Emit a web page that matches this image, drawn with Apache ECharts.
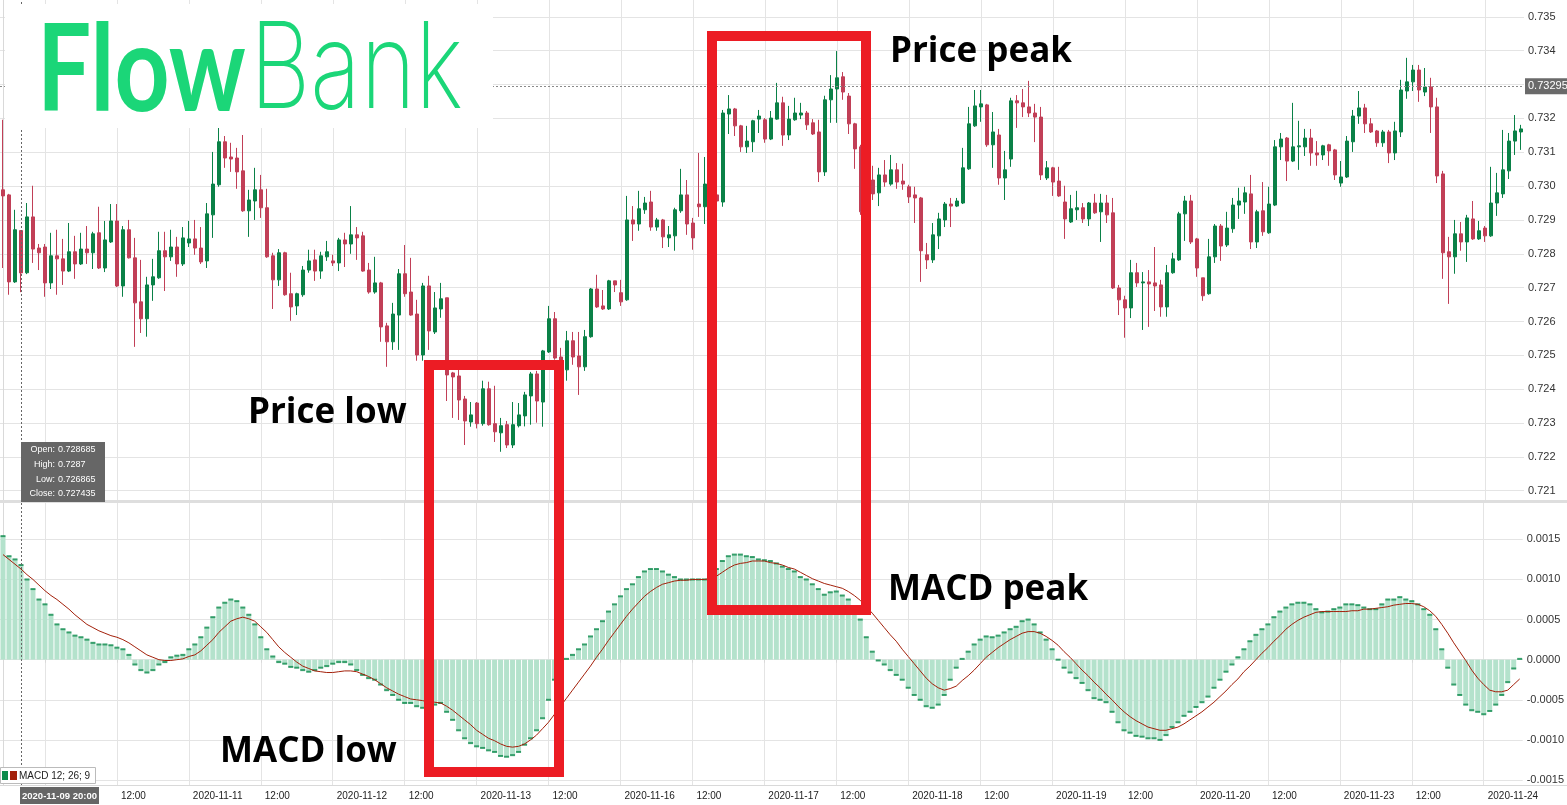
<!DOCTYPE html>
<html><head><meta charset="utf-8">
<script src="https://cdn.jsdelivr.net/npm/echarts@6/dist/echarts.min.js"></script>
<style>html,body{margin:0;padding:0;background:#fff}#c{width:1567px;height:805px}</style>
</head><body><div id="c"></div>
<script>
// ---- DATA (hourly candles, 2020-11-09 17:00 .. 2020-11-24 06:00, weekends skipped) ----
const tradingDays = ['2020-11-09','2020-11-10','2020-11-11','2020-11-12','2020-11-13','2020-11-16','2020-11-17','2020-11-18','2020-11-19','2020-11-20','2020-11-23','2020-11-24'];
const openP = [0.72989,0.72974,0.72717,0.728685,0.72744,0.72909,0.72817,0.72820,0.72714,0.72794,
0.72785,0.72749,0.72806,0.72770,0.72814,0.72803,0.72862,0.72758,0.72835,0.72897,
0.72705,0.72871,0.72788,0.72658,0.72608,0.72708,0.72729,0.72809,0.72791,0.72820,
0.72770,0.72832,0.72844,0.72817,0.72779,0.72915,0.73004,0.73131,0.73086,0.73083,
0.73045,0.72927,0.72956,0.72989,0.72936,0.72794,0.72723,0.72803,0.72682,0.72646,
0.72679,0.72752,0.72782,0.72749,0.72791,0.72779,0.72773,0.72841,0.72829,0.72856,
0.72853,0.72752,0.72687,0.72714,0.72587,0.72540,0.72619,0.72741,0.72687,0.72622,
0.72501,0.72705,0.72569,0.72637,0.72670,0.72448,0.72439,0.72371,0.72303,0.72359,
0.72298,0.72401,0.72298,0.72271,0.72295,0.72235,0.72292,0.72321,0.72380,0.72445,
0.72362,0.72510,0.72608,0.72495,0.72457,0.72543,0.72498,0.72466,0.72555,0.72696,
0.72646,0.72637,0.72720,0.72685,0.72664,0.72900,0.72888,0.72930,0.72953,0.72879,
0.72900,0.72847,0.72853,0.72927,0.72974,0.72891,0.72947,0.72939,0.73006,0.72974,
0.72953,0.73213,0.73228,0.73178,0.73116,0.73131,0.73198,0.73196,0.73139,0.73198,
0.73246,0.73151,0.73196,0.73210,0.73216,0.73187,0.73160,0.73042,0.73255,0.73287,
0.73323,0.73266,0.73184,0.73116,0.72930,0.73018,0.72980,0.73033,0.73006,0.73048,
0.73015,0.72998,0.72974,0.72965,0.72797,0.72782,0.72853,0.72900,0.72947,0.72941,
0.72950,0.73051,0.73178,0.73234,0.73240,0.73122,0.73151,0.73024,0.73080,0.73252,
0.73246,0.73234,0.73216,0.73204,0.73024,0.73054,0.73015,0.72953,0.72894,0.72930,
0.72936,0.72903,0.72950,0.72924,0.72950,0.72921,0.72699,0.72664,0.72640,0.72744,
0.72714,0.72717,0.72714,0.72708,0.72643,0.72744,0.72782,0.72918,0.72956,0.72844,
0.72729,0.72682,0.72791,0.72882,0.72826,0.72874,0.72944,0.72953,0.72977,0.72835,
0.72927,0.72862,0.72944,0.73116,0.73142,0.73074,0.73116,0.73116,0.73142,0.73098,
0.73092,0.73122,0.73107,0.73009,0.73027,0.73131,0.73207,0.73231,0.73184,0.73163,
0.73128,0.73160,0.73098,0.73160,0.73281,0.73308,0.73343,0.73278,0.73293,0.73234,
0.73036,0.72806,0.72791,0.72859,0.72835,0.72903,0.72844,0.72876,0.72853,0.72950,
0.72977,0.73045,0.73133,0.73160];
const closeP = [0.72971,0.72717,0.72871,0.727435,0.72909,0.72814,0.72803,0.72714,0.72794,0.72785,
0.72749,0.72806,0.72770,0.72814,0.72803,0.72859,0.72758,0.72841,0.72897,0.72705,
0.72871,0.72788,0.72655,0.72608,0.72708,0.72732,0.72809,0.72791,0.72820,0.72770,
0.72847,0.72844,0.72817,0.72776,0.72918,0.73006,0.73131,0.73083,0.73080,0.73042,
0.72927,0.72959,0.72989,0.72936,0.72791,0.72723,0.72803,0.72679,0.72643,0.72682,
0.72752,0.72779,0.72749,0.72794,0.72806,0.72773,0.72841,0.72829,0.72856,0.72847,
0.72749,0.72687,0.72714,0.72584,0.72540,0.72622,0.72741,0.72682,0.72619,0.72501,
0.72705,0.72572,0.72640,0.72667,0.72442,0.72436,0.72368,0.72306,0.72324,0.72298,
0.72401,0.72295,0.72274,0.72292,0.72235,0.72295,0.72324,0.72383,0.72445,0.72365,
0.72513,0.72608,0.72492,0.72463,0.72543,0.72495,0.72466,0.72555,0.72696,0.72643,
0.72637,0.72720,0.72708,0.72658,0.72900,0.72888,0.72933,0.72950,0.72879,0.72900,
0.72850,0.72856,0.72930,0.72974,0.72888,0.72847,0.72939,0.73006,0.72974,0.72956,
0.73216,0.73228,0.73178,0.73116,0.73133,0.73193,0.73207,0.73139,0.73201,0.73246,
0.73151,0.73198,0.73216,0.73216,0.73181,0.73154,0.73042,0.73255,0.73287,0.73320,
0.73278,0.73184,0.73110,0.72924,0.73004,0.72977,0.73033,0.73012,0.73048,0.73012,
0.73006,0.72968,0.72965,0.72809,0.72782,0.72856,0.72903,0.72947,0.72941,0.72956,
0.73054,0.73184,0.73237,0.73243,0.73122,0.73160,0.73024,0.73048,0.73252,0.73246,
0.73234,0.73216,0.73204,0.73033,0.73054,0.73012,0.72971,0.72903,0.72933,0.72936,
0.72903,0.72950,0.72921,0.72950,0.72915,0.72699,0.72664,0.72640,0.72744,0.72714,
0.72717,0.72711,0.72705,0.72643,0.72744,0.72785,0.72918,0.72956,0.72835,0.72758,
0.72676,0.72791,0.72882,0.72823,0.72876,0.72944,0.72956,0.72980,0.72835,0.72924,
0.72865,0.72947,0.73116,0.73139,0.73074,0.73116,0.73119,0.73142,0.73098,0.73092,
0.73119,0.73104,0.73033,0.73027,0.73133,0.73207,0.73231,0.73184,0.73160,0.73128,
0.73160,0.73098,0.73163,0.73284,0.73308,0.73343,0.73284,0.73293,0.73234,0.73030,
0.72803,0.72791,0.72859,0.72835,0.72906,0.72844,0.72868,0.72853,0.72950,0.72980,
0.73048,0.73133,0.73163,0.73169];
const lowP = [0.72758,0.72679,0.72714,0.726865,0.72740,0.72773,0.72752,0.72673,0.72696,0.72679,
0.72708,0.72746,0.72726,0.72767,0.72770,0.72755,0.72755,0.72746,0.72832,0.72702,
0.72673,0.72786,0.72525,0.72566,0.72555,0.72661,0.72726,0.72690,0.72779,0.72732,
0.72764,0.72820,0.72797,0.72770,0.72758,0.72847,0.72998,0.73054,0.73042,0.72992,
0.72924,0.72850,0.72900,0.72906,0.72788,0.72637,0.72705,0.72676,0.72602,0.72619,
0.72673,0.72744,0.72720,0.72726,0.72779,0.72764,0.72749,0.72761,0.72800,0.72782,
0.72747,0.72682,0.72682,0.72540,0.72466,0.72516,0.72516,0.72673,0.72617,0.72484,
0.72484,0.72516,0.72563,0.72611,0.72365,0.72315,0.72309,0.72235,0.72289,0.72284,
0.72292,0.72292,0.72244,0.72215,0.72226,0.72226,0.72287,0.72290,0.72295,0.72301,
0.72289,0.72507,0.72487,0.72409,0.72425,0.72472,0.72383,0.72454,0.72552,0.72640,
0.72634,0.72634,0.72687,0.72646,0.72661,0.72838,0.72868,0.72918,0.72868,0.72868,
0.72817,0.72820,0.72809,0.72921,0.72856,0.72812,0.72909,0.72888,0.72959,0.72903,
0.72939,0.73154,0.73148,0.73101,0.73098,0.73101,0.73157,0.73128,0.73136,0.73196,
0.73119,0.73136,0.73193,0.73198,0.73166,0.73151,0.73012,0.73030,0.73187,0.73187,
0.73255,0.73154,0.73051,0.72915,0.72918,0.72959,0.72941,0.72998,0.73001,0.72992,
0.72989,0.72950,0.72891,0.72717,0.72755,0.72773,0.72814,0.72879,0.72879,0.72938,
0.72947,0.73048,0.73175,0.73190,0.73116,0.73054,0.73004,0.72959,0.73057,0.73172,
0.73204,0.73204,0.73130,0.73018,0.73018,0.72971,0.72968,0.72844,0.72891,0.72900,
0.72891,0.72882,0.72918,0.72835,0.72891,0.72696,0.72619,0.72552,0.72610,0.72702,
0.72575,0.72584,0.72631,0.72614,0.72614,0.72741,0.72779,0.72838,0.72829,0.72732,
0.72661,0.72679,0.72773,0.72779,0.72820,0.72862,0.72903,0.72918,0.72814,0.72817,
0.72853,0.72859,0.72941,0.73077,0.73015,0.73071,0.73048,0.73089,0.73060,0.73060,
0.73077,0.73060,0.73018,0.72998,0.73024,0.73101,0.73184,0.73157,0.73157,0.73116,
0.73116,0.73068,0.73077,0.73145,0.73258,0.73281,0.73249,0.73266,0.73157,0.73009,
0.72726,0.72652,0.72741,0.72809,0.72776,0.72841,0.72841,0.72835,0.72850,0.72912,
0.72965,0.73021,0.73092,0.73107];
const highP = [0.73196,0.72977,0.72930,0.7287,0.72950,0.73001,0.72829,0.72829,0.72862,0.72871,
0.72844,0.72891,0.72853,0.72862,0.72882,0.72865,0.72939,0.72897,0.72947,0.72947,
0.72882,0.72900,0.72847,0.72782,0.72732,0.72785,0.72865,0.72865,0.72871,0.72850,
0.72879,0.72897,0.72900,0.72879,0.72950,0.73101,0.73172,0.73148,0.73128,0.73113,
0.73151,0.72989,0.73054,0.73033,0.72992,0.72803,0.72814,0.72806,0.72744,0.72685,
0.72764,0.72812,0.72812,0.72806,0.72838,0.72797,0.72847,0.72862,0.72941,0.72879,
0.72865,0.72773,0.72791,0.72717,0.72596,0.72655,0.72755,0.72826,0.72788,0.72664,
0.72714,0.72735,0.72687,0.72714,0.72670,0.72451,0.72457,0.72380,0.72362,0.72362,
0.72425,0.72422,0.72410,0.72315,0.72306,0.72362,0.72359,0.72392,0.72451,0.72454,
0.72516,0.72646,0.72628,0.72522,0.72572,0.72569,0.72569,0.72575,0.72699,0.72738,
0.72693,0.72723,0.72720,0.72723,0.72971,0.72941,0.72986,0.72968,0.72986,0.72906,
0.72903,0.72882,0.72936,0.73051,0.73018,0.72906,0.73098,0.73086,0.73024,0.73068,
0.73225,0.73269,0.73231,0.73181,0.73178,0.73196,0.73225,0.73201,0.73222,0.73305,
0.73264,0.73237,0.73261,0.73246,0.73222,0.73198,0.73196,0.73267,0.73328,0.73399,
0.73337,0.73275,0.73187,0.73122,0.73018,0.73060,0.73054,0.73077,0.73092,0.73068,
0.73066,0.73004,0.72998,0.72968,0.72832,0.72891,0.72921,0.72953,0.72965,0.72965,
0.73113,0.73234,0.73284,0.73284,0.73243,0.73219,0.73169,0.73104,0.73261,0.73269,
0.73287,0.73311,0.73243,0.73234,0.73074,0.73057,0.73057,0.73001,0.72974,0.72986,
0.72950,0.72953,0.72977,0.72977,0.72974,0.72965,0.72708,0.72676,0.72782,0.72773,
0.72746,0.72752,0.72820,0.72723,0.72767,0.72803,0.72924,0.72971,0.72974,0.72847,
0.72729,0.72844,0.72888,0.72888,0.72924,0.72965,0.72995,0.72998,0.73033,0.72930,
0.73012,0.72998,0.73136,0.73157,0.73145,0.73246,0.73193,0.73169,0.73169,0.73133,
0.73122,0.73125,0.73110,0.73074,0.73148,0.73225,0.73281,0.73243,0.73201,0.73166,
0.73166,0.73166,0.73190,0.73314,0.73379,0.73358,0.73358,0.73349,0.73320,0.73261,
0.73045,0.72850,0.72900,0.72894,0.72915,0.72956,0.72897,0.72882,0.73057,0.73039,
0.73166,0.73157,0.73210,0.73181];
const macdValues = [0.00154,0.00129,0.00125,0.00118,0.00100,0.00088,0.00075,0.00069,0.00056,0.00044,
0.00038,0.00034,0.00030,0.00028,0.00025,0.00021,0.00019,0.00019,0.00018,0.00015,
0.00013,0.00006,-0.00006,-0.00013,-0.00016,-0.00013,-0.00006,-0.00003,0.00003,0.00005,
0.00006,0.00013,0.00019,0.00028,0.00040,0.00053,0.00065,0.00071,0.00075,0.00073,
0.00065,0.00056,0.00044,0.00028,0.00013,0.00004,-0.00003,-0.00005,-0.00009,-0.00010,
-0.00013,-0.00015,-0.00013,-0.00010,-0.00008,-0.00005,-0.00003,-0.00003,-0.00006,-0.00013,
-0.00019,-0.00023,-0.00025,-0.00031,-0.00038,-0.00044,-0.00050,-0.00054,-0.00054,-0.00058,
-0.00060,-0.00063,-0.00056,-0.00054,-0.00065,-0.00075,-0.00088,-0.00098,-0.00104,-0.00108,
-0.00110,-0.00113,-0.00115,-0.00120,-0.00121,-0.00119,-0.00115,-0.00106,-0.00098,-0.00088,
-0.00073,-0.00050,-0.00025,-0.00006,0.00001,0.00006,0.00013,0.00019,0.00029,0.00038,
0.00048,0.00060,0.00069,0.00079,0.00088,0.00094,0.00103,0.00110,0.00113,0.00113,
0.00110,0.00106,0.00103,0.00100,0.00100,0.00100,0.00100,0.00100,0.00103,0.00113,
0.00123,0.00129,0.00131,0.00131,0.00129,0.00128,0.00125,0.00124,0.00123,0.00120,
0.00116,0.00113,0.00110,0.00103,0.00100,0.00094,0.00088,0.00081,0.00084,0.00085,
0.00080,0.00075,0.00060,0.00050,0.00028,0.00010,-0.00001,-0.00006,-0.00013,-0.00019,
-0.00025,-0.00035,-0.00044,-0.00050,-0.00058,-0.00060,-0.00056,-0.00044,-0.00025,-0.00010,
0.00001,0.00010,0.00019,0.00025,0.00029,0.00028,0.00030,0.00034,0.00038,0.00041,
0.00048,0.00050,0.00044,0.00034,0.00025,0.00013,0.00000,-0.00010,-0.00016,-0.00023,
-0.00029,-0.00038,-0.00048,-0.00050,-0.00053,-0.00065,-0.00078,-0.00088,-0.00091,-0.00095,
-0.00096,-0.00098,-0.00098,-0.00100,-0.00094,-0.00084,-0.00078,-0.00070,-0.00065,-0.00059,
-0.00053,-0.00046,-0.00035,-0.00025,-0.00015,-0.00006,0.00003,0.00013,0.00023,0.00031,
0.00038,0.00044,0.00053,0.00060,0.00065,0.00069,0.00071,0.00071,0.00069,0.00063,
0.00059,0.00060,0.00063,0.00065,0.00069,0.00069,0.00068,0.00065,0.00063,0.00063,
0.00069,0.00075,0.00075,0.00078,0.00075,0.00073,0.00069,0.00063,0.00056,0.00038,
0.00013,-0.00010,-0.00031,-0.00044,-0.00056,-0.00063,-0.00065,-0.00068,-0.00064,-0.00056,
-0.00044,-0.00028,-0.00011,0.00001];
const signalValues = [0.00131,0.00125,0.00119,0.00113,0.00106,0.00100,0.00093,0.00086,0.00080,0.00075,
0.00069,0.00063,0.00056,0.00050,0.00044,0.00040,0.00036,0.00033,0.00030,0.00028,
0.00025,0.00021,0.00016,0.00011,0.00006,0.00003,0.00000,-0.00001,-0.00001,0.00000,
0.00001,0.00004,0.00006,0.00011,0.00018,0.00025,0.00034,0.00041,0.00048,0.00051,
0.00053,0.00051,0.00048,0.00041,0.00034,0.00025,0.00016,0.00009,0.00003,-0.00003,
-0.00008,-0.00011,-0.00014,-0.00015,-0.00016,-0.00016,-0.00015,-0.00014,-0.00014,-0.00015,
-0.00018,-0.00021,-0.00025,-0.00030,-0.00035,-0.00039,-0.00043,-0.00046,-0.00049,-0.00050,
-0.00051,-0.00053,-0.00053,-0.00054,-0.00058,-0.00063,-0.00069,-0.00075,-0.00081,-0.00088,
-0.00093,-0.00098,-0.00101,-0.00105,-0.00108,-0.00109,-0.00108,-0.00105,-0.00100,-0.00094,
-0.00086,-0.00078,-0.00068,-0.00058,-0.00048,-0.00038,-0.00028,-0.00018,-0.00008,0.00003,
0.00013,0.00024,0.00034,0.00044,0.00054,0.00063,0.00071,0.00079,0.00085,0.00090,
0.00094,0.00096,0.00098,0.00099,0.00099,0.00100,0.00100,0.00100,0.00101,0.00104,
0.00109,0.00114,0.00118,0.00120,0.00121,0.00123,0.00123,0.00123,0.00121,0.00120,
0.00118,0.00115,0.00113,0.00109,0.00105,0.00101,0.00098,0.00095,0.00093,0.00091,
0.00089,0.00085,0.00080,0.00074,0.00066,0.00058,0.00049,0.00040,0.00031,0.00023,
0.00013,0.00004,-0.00005,-0.00014,-0.00023,-0.00030,-0.00035,-0.00038,-0.00036,-0.00033,
-0.00026,-0.00020,-0.00013,-0.00005,0.00003,0.00009,0.00015,0.00020,0.00025,0.00029,
0.00033,0.00035,0.00035,0.00033,0.00029,0.00024,0.00018,0.00010,0.00003,-0.00005,
-0.00013,-0.00020,-0.00028,-0.00035,-0.00043,-0.00050,-0.00058,-0.00065,-0.00071,-0.00076,
-0.00080,-0.00084,-0.00086,-0.00088,-0.00088,-0.00086,-0.00084,-0.00080,-0.00075,-0.00070,
-0.00065,-0.00059,-0.00053,-0.00046,-0.00039,-0.00031,-0.00024,-0.00015,-0.00008,0.00000,
0.00008,0.00015,0.00023,0.00030,0.00038,0.00044,0.00049,0.00053,0.00056,0.00059,
0.00060,0.00060,0.00060,0.00060,0.00060,0.00061,0.00061,0.00063,0.00063,0.00064,
0.00065,0.00066,0.00068,0.00069,0.00070,0.00070,0.00069,0.00066,0.00061,0.00054,
0.00044,0.00033,0.00021,0.00010,-0.00001,-0.00013,-0.00023,-0.00031,-0.00038,-0.00040,
-0.00040,-0.00038,-0.00031,-0.00024];
const priceTicks = [0.721,0.722,0.723,0.724,0.725,0.726,0.727,0.728,0.729,0.730,0.731,0.732,0.733,0.734,0.735];
const macdTicks = [-0.0015,-0.001,-0.0005,0,0.0005,0.001,0.0015];
const xTickLabels = ['2020-11-10','12:00','2020-11-11','12:00','2020-11-12','12:00','2020-11-13','12:00','2020-11-16','12:00','2020-11-17','12:00','2020-11-18','12:00','2020-11-19','12:00','2020-11-20','12:00','2020-11-23','12:00','2020-11-24'];
const markedPrice = 0.73295;
const crosshairIndex = 3;
const crosshairOHLC = ['Open: 0.728685','High: 0.7287','Low: 0.726865','Close: 0.727435'];

// ---- build categories (hour stamps) ----
const categories = [];
tradingDays.forEach((d, di) => {
  const h0 = di === 0 ? 17 : 0;
  const h1 = di === tradingDays.length - 1 ? 6 : 23;
  for (let h = h0; h <= h1; h++) categories.push(d + ' ' + String(h).padStart(2, '0') + ':00');
});
const tickIdx = [];
categories.forEach((c, i) => { if (c.endsWith(' 00:00') || c.endsWith(' 12:00')) tickIdx.push(i); });
const tickLabelOf = {}; tickIdx.forEach((ix, k) => tickLabelOf[ix] = xTickLabels[k]);

const UP = '#0a8147', DOWN = '#c13f57', GRIDC = '#e4e4e4', AXISC = '#d9d9d9';
const LOGO = '#1bd678';
const FONT = 'Liberation Sans, Arial, sans-serif';
const NARROW = 'Liberation Sans Narrow, Liberation Sans, Arial, sans-serif';
const BOLD = 'Open Sans, Noto Sans, sans-serif';

const candleData = openP.map((o, i) => [i, o, closeP[i], lowP[i], highP[i]]);
const histData = macdValues.map((v, i) => [i, v]);
const sigData = signalValues.map((v, i) => [i, v]);

const chart = echarts.init(document.getElementById('c'), null, {renderer: 'canvas'});
const xBase = {type: 'value', min: -0.5, max: categories.length - 0.5};
const Z = 95;
chart.setOption({
  animation: false,
  backgroundColor: '#fff',
  grid: [
    {left: 0, top: 0, width: 1524, height: 500, containLabel: false},
    {left: 0, top: 503, width: 1524, height: 282, containLabel: false}
  ],
  xAxis: [
    Object.assign({}, xBase, {gridIndex: 0,
      axisLine: {show: false}, axisTick: {show: false, customValues: tickIdx},
      axisLabel: {show: false, customValues: tickIdx},
      splitLine: {show: true, lineStyle: {color: GRIDC, width: 1}}}),
    Object.assign({}, xBase, {gridIndex: 1,
      axisLine: {show: false},
      axisTick: {show: true, customValues: tickIdx, length: 3, lineStyle: {color: AXISC}},
      axisLabel: {customValues: tickIdx, formatter: v => tickLabelOf[Math.round(v)] || '',
        align: 'left', padding: [0, 0, 0, 4], margin: 6, color: '#222', fontSize: 10, fontFamily: NARROW},
      splitLine: {show: true, lineStyle: {color: GRIDC, width: 1}}})
  ],
  yAxis: [
    {type: 'value', gridIndex: 0, position: 'right', min: 0.720725, max: 0.735499,
      axisLine: {show: true, lineStyle: {color: AXISC}}, axisTick: {show: false, customValues: priceTicks},
      axisLabel: {customValues: priceTicks, formatter: v => v.toFixed(3), margin: 4, color: '#333', fontSize: 11, fontFamily: FONT, padding: [0, 0, 7, 0]},
      splitLine: {show: true, lineStyle: {color: GRIDC}}},
    {type: 'value', gridIndex: 1, position: 'right', min: -0.001562, max: 0.001953,
      axisLine: {show: true, lineStyle: {color: AXISC}}, axisTick: {show: false, customValues: macdTicks},
      axisLabel: {customValues: macdTicks, formatter: v => (Math.abs(v) < 1e-9 ? 0 : v).toFixed(4), margin: 4, color: '#333', fontSize: 11, fontFamily: FONT, padding: [0, 0, 7, 0]},
      splitLine: {show: true, lineStyle: {color: GRIDC}}}
  ],
  series: [
    {type: 'candlestick', xAxisIndex: 0, yAxisIndex: 0, data: candleData, barWidth: 4,
      itemStyle: {color: UP, color0: DOWN, borderColor: UP, borderColor0: DOWN, borderWidth: 1},
      markLine: {silent: true, symbol: ['none', 'none'], animation: false, precision: 5,
        data: [
          {yAxis: markedPrice, lineStyle: {color: '#8a8a8a', type: [2, 2], width: 1},
            label: {show: true, position: 'end', distance: 1, formatter: markedPrice.toFixed(5), color: '#fff',
              backgroundColor: '#6a6a6a', padding: [3, 3, 2, 3], fontSize: 11, fontFamily: FONT}},
          {xAxis: crosshairIndex, lineStyle: {color: '#666', type: [2, 2], width: 1}, label: {show: false}}
        ]}},
    {type: 'bar', xAxisIndex: 1, yAxisIndex: 1, data: histData, barWidth: 5,
      itemStyle: {color: '#b4e2cc'},
      markLine: {silent: true, symbol: ['none', 'none'], animation: false,
        data: [{xAxis: crosshairIndex, lineStyle: {color: '#666', type: [2, 2], width: 1}, label: {show: false}}]}},
    {type: 'scatter', xAxisIndex: 1, yAxisIndex: 1, data: histData, symbol: 'rect', symbolSize: [5, 2],
      itemStyle: {color: '#0b8a4b'}, silent: true},
    {type: 'line', xAxisIndex: 1, yAxisIndex: 1, data: sigData, showSymbol: false, symbol: 'none',
      lineStyle: {color: '#a3200a', width: 1}, silent: true}
  ],
  graphic: [
    // panel separators / frame
    {type: 'rect', shape: {x: 0, y: 500, width: 1567, height: 3}, style: {fill: '#dedede'}, z: 50},
    {type: 'rect', shape: {x: 0, y: 785, width: 1567, height: 1}, style: {fill: '#d9d9d9'}, z: 50},
    // logo
    {type: 'rect', shape: {x: 5, y: 4, width: 488, height: 124}, style: {fill: '#fff'}, z: 100},
    {type: 'text', x: 37, y: 72, scaleX: 0.8, z: 101,
      style: {text: 'Flow', fill: LOGO, font: 'bold 120px Lato, Noto Sans, sans-serif', textVerticalAlign: 'middle'}},
    {type: 'text', x: 250, y: 72, scaleX: 0.78, z: 101,
      style: {text: 'Bank', fill: LOGO, font: '200 120px Inter, Lato, Noto Sans, sans-serif', textVerticalAlign: 'middle'}},
    // annotation boxes
    {type: 'rect', shape: {x: 429, y: 365, width: 130, height: 407}, style: {fill: 'none', stroke: '#ec1c24', lineWidth: 10}, z: 90},
    {type: 'rect', shape: {x: 712, y: 36, width: 154, height: 574}, style: {fill: 'none', stroke: '#ec1c24', lineWidth: 10}, z: 90},
    {type: 'text', x: 890, y: 52, z: 91, style: {text: 'Price peak', fill: '#000', font: 'bold 35px ' + BOLD, textVerticalAlign: 'middle'}},
    {type: 'text', x: 248, y: 413, z: 91, style: {text: 'Price low', fill: '#000', font: 'bold 35px ' + BOLD, textVerticalAlign: 'middle'}},
    {type: 'text', x: 888, y: 590, z: 91, style: {text: 'MACD peak', fill: '#000', font: 'bold 35px ' + BOLD, textVerticalAlign: 'middle'}},
    {type: 'text', x: 220, y: 752, z: 91, style: {text: 'MACD low', fill: '#000', font: 'bold 35px ' + BOLD, textVerticalAlign: 'middle'}},
    // crosshair OHLC box
    {type: 'rect', shape: {x: 21, y: 442, width: 84, height: 60}, style: {fill: '#666'}, z: Z},
    ...crosshairOHLC.flatMap((t, k) => {
      const [lab, val] = t.split(': ');
      return [
        {type: 'text', x: 55, y: 450 + k * 14.6, z: Z + 1, style: {text: lab + ':', fill: '#fff', font: '9px ' + FONT, textAlign: 'right', textVerticalAlign: 'middle'}},
        {type: 'text', x: 58, y: 450 + k * 14.6, z: Z + 1, style: {text: val, fill: '#fff', font: '9px ' + FONT, textAlign: 'left', textVerticalAlign: 'middle'}}
      ];
    }),
    // crosshair x label
    {type: 'rect', shape: {x: 20, y: 787, width: 79, height: 17}, style: {fill: '#666'}, z: Z},
    {type: 'text', x: 59.5, y: 796, z: Z + 1, style: {text: categories[crosshairIndex], fill: '#fff', font: 'bold 9.5px ' + NARROW, textAlign: 'center', textVerticalAlign: 'middle'}},
    // MACD legend
    {type: 'rect', shape: {x: 0.5, y: 767.5, width: 95, height: 16}, style: {fill: '#fff', stroke: '#bbb', lineWidth: 1}, z: Z},
    {type: 'rect', shape: {x: 2, y: 771, width: 6, height: 9}, style: {fill: '#0b8a4b'}, z: Z + 1},
    {type: 'rect', shape: {x: 10, y: 771, width: 7, height: 9}, style: {fill: '#a3200a'}, z: Z + 1},
    {type: 'text', x: 19, y: 776, z: Z + 1, style: {text: 'MACD 12; 26; 9', fill: '#222', font: '10px ' + NARROW, textVerticalAlign: 'middle'}}
  ]
});
</script></body></html>
